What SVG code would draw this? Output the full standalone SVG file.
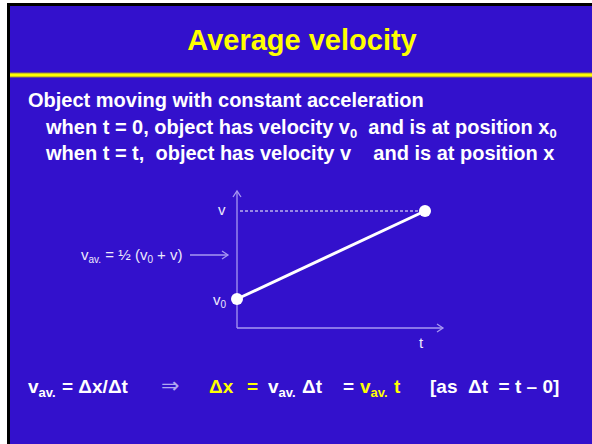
<svg xmlns="http://www.w3.org/2000/svg" width="592" height="444" viewBox="0 0 592 444">
<defs>
<style>
.b{font-family:"Liberation Sans",Arial,sans-serif;font-weight:bold;font-size:20px;fill:#ffffff}
.e{font-size:19px}
.y{fill:#ffff00}
.s{font-size:13px}
.g{font-family:"Liberation Sans",Arial,sans-serif;font-size:15px;fill:#eeeafc}
.gs{font-size:10px}
.ax{stroke:#a898f2;stroke-width:1.3;fill:none}
</style>
<marker id="ah" markerWidth="10" markerHeight="10" refX="8" refY="5" orient="auto" markerUnits="userSpaceOnUse">
<path d="M2,1 L8,5 L2,9" fill="none" stroke="#a898f2" stroke-width="1.3"/>
</marker>
</defs>
<rect width="592" height="444" fill="#ffffff"/>
<rect x="7" y="3" width="585" height="441" fill="#000000"/>
<rect x="10" y="6" width="582" height="438" fill="#3311cc"/>
<rect x="10" y="72.5" width="582" height="5" fill="#9c8a3a"/>
<rect x="10" y="73.5" width="582" height="3" fill="#ffff00"/>
<text x="302" y="50" text-anchor="middle" font-family="'Liberation Sans',Arial,sans-serif" font-weight="bold" font-size="29" fill="#ffff00">Average velocity</text>
<g id="intro">
<text class="b" x="28" y="107">Object moving with constant acceleration</text>
<text class="b" x="46" y="134" xml:space="preserve">when t = 0, object has velocity v<tspan class="s" dy="4">0</tspan><tspan dy="-4">  and is at position x</tspan><tspan class="s" dy="4">0</tspan></text>
<text class="b" x="46" y="160" xml:space="preserve">when t = t,  object has velocity v    and is at position x</text>
</g>
<g id="connectors">
<line class="ax" x1="237" y1="328" x2="237" y2="191" marker-end="url(#ah)"/>
<line class="ax" x1="237" y1="328" x2="443" y2="328" marker-end="url(#ah)"/>
<line class="ax" x1="190" y1="255" x2="228" y2="255" marker-end="url(#ah)"/>
<line x1="240" y1="211" x2="425" y2="211" stroke="#ffffff" stroke-width="1" stroke-dasharray="3,2"/>
<line x1="237" y1="299" x2="425" y2="211" stroke="#ffffff" stroke-width="3"/>
</g>
<g id="p0"><circle cx="237" cy="299" r="6" fill="#ffffff"/></g>
<g id="p1"><circle cx="425" cy="211" r="6" fill="#ffffff"/></g>
<g id="labels">
<text class="g" x="218" y="215">v</text>
<text class="g" x="213" y="305">v<tspan class="gs" dy="3">0</tspan></text>
<text class="g" x="419" y="348">t</text>
<text class="g" x="81" y="260" xml:space="preserve">v<tspan class="gs" dy="3">av.</tspan><tspan dy="-3"> = ½ (v</tspan><tspan class="gs" dy="3">0</tspan><tspan dy="-3"> + v)</tspan></text>
</g>
<g id="equation">
<text class="b e" x="28" y="393">v<tspan class="s" dy="4">av.</tspan><tspan dy="-4" x="62">= Δx/Δt</tspan></text>
<text x="161" y="393" font-family="'DejaVu Sans',sans-serif" font-size="22" fill="#b0a8f0">⇒</text>
<text class="b e y" x="209" y="393">Δx<tspan x="247">=</tspan></text>
<text class="b e" x="268" y="393">v<tspan class="s" dy="4">av.</tspan><tspan dy="-4" x="302">Δt</tspan><tspan x="343">=</tspan></text>
<text class="b e y" x="360" y="393">v<tspan class="s" dy="4">av.</tspan><tspan dy="-4" x="394">t</tspan></text>
<text class="b e" x="430" y="393" xml:space="preserve">[as  Δt  = t – 0]</text>
</g>
</svg>
